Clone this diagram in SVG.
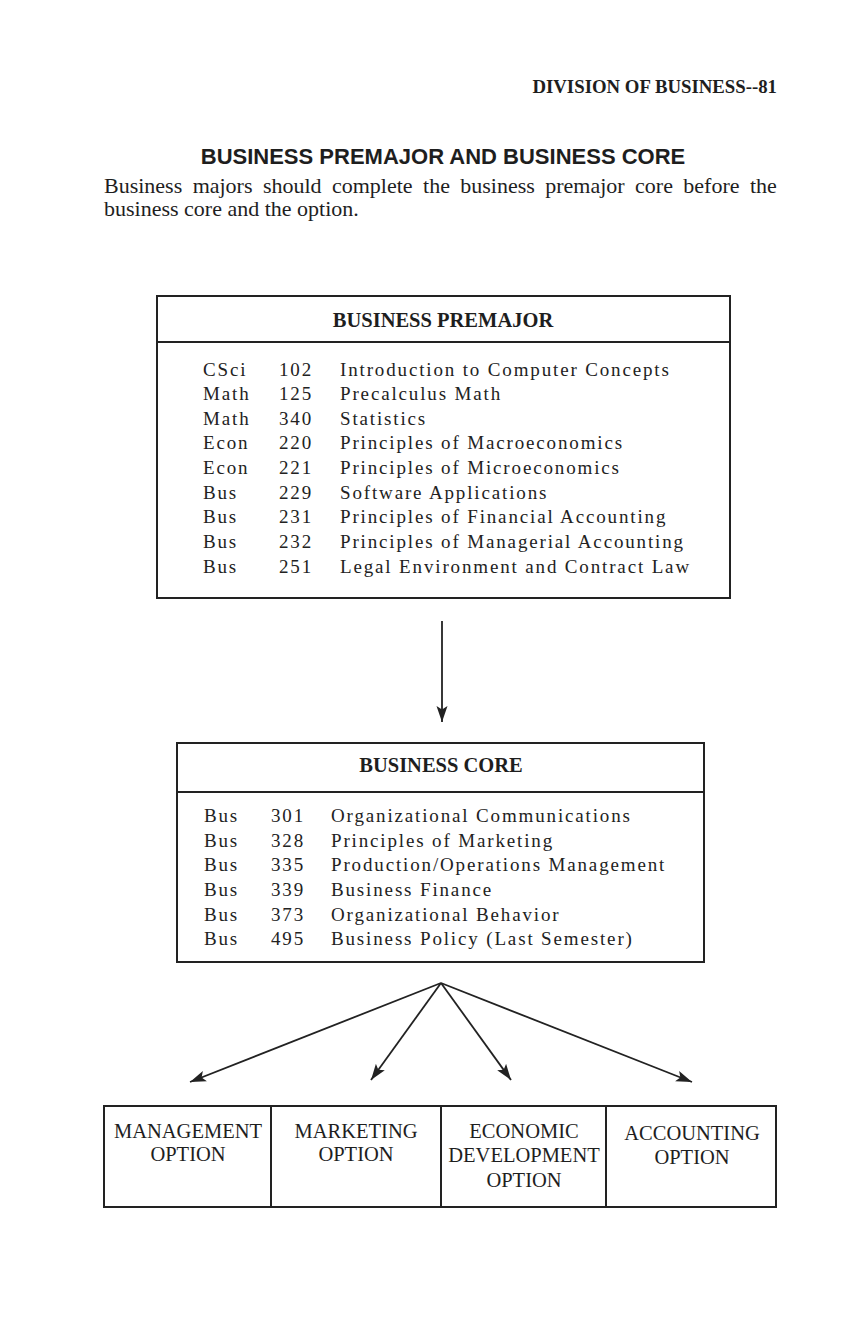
<svg xmlns="http://www.w3.org/2000/svg" width="863" height="1343" viewBox="0 0 863 1343">
<defs>
<style>
.ser{font-family:"Liberation Serif","Times New Roman",serif;fill:#1e1e1e}
.row{font-family:"Liberation Serif","Times New Roman",serif;font-size:19px;letter-spacing:1.85px;fill:#222}
.hd{font-family:"Liberation Serif","Times New Roman",serif;font-size:20.5px;font-weight:bold;fill:#1e1e1e;text-anchor:middle}
.opt{font-family:"Liberation Serif","Times New Roman",serif;font-size:20.5px;fill:#1e1e1e;text-anchor:middle}
.box{fill:none;stroke:#222;stroke-width:2}
.con{fill:none;stroke:#222;stroke-width:1.8}
</style>
<marker id="ah" markerUnits="userSpaceOnUse" markerWidth="18" markerHeight="12" refX="16" refY="6" orient="auto">
<path d="M0,0.5 L16,6 L0,11.5 L3.5,6 z" fill="#222"/>
</marker>
</defs>
<rect width="863" height="1343" fill="#ffffff"/>

<g id="header">
<text class="ser" x="777" y="93" font-size="18.8" font-weight="bold" text-anchor="end">DIVISION OF BUSINESS--81</text>
<text x="443" y="164" font-family="Liberation Sans, Arial, sans-serif" font-size="22" font-weight="bold" fill="#1e1e1e" text-anchor="middle">BUSINESS PREMAJOR AND BUSINESS CORE</text>
<text class="ser" x="104" y="193" font-size="22" word-spacing="4.9">Business majors should complete the business premajor core before the</text>
<text class="ser" x="104" y="216" font-size="22">business core and the option.</text>
</g>

<g id="premajor">
<rect class="box" x="157" y="296" width="573" height="302"/>
<line class="box" x1="157" y1="342" x2="730" y2="342"/>
<text class="hd" x="443" y="327">BUSINESS PREMAJOR</text>
<text class="row" y="375.5"><tspan x="203">CSci</tspan><tspan x="279">102</tspan><tspan x="340">Introduction to Computer Concepts</tspan></text>
<text class="row" y="400"><tspan x="203">Math</tspan><tspan x="279">125</tspan><tspan x="340">Precalculus Math</tspan></text>
<text class="row" y="424.5"><tspan x="203">Math</tspan><tspan x="279">340</tspan><tspan x="340">Statistics</tspan></text>
<text class="row" y="449"><tspan x="203">Econ</tspan><tspan x="279">220</tspan><tspan x="340">Principles of Macroeconomics</tspan></text>
<text class="row" y="474"><tspan x="203">Econ</tspan><tspan x="279">221</tspan><tspan x="340">Principles of Microeconomics</tspan></text>
<text class="row" y="498.5"><tspan x="203">Bus</tspan><tspan x="279">229</tspan><tspan x="340">Software Applications</tspan></text>
<text class="row" y="523"><tspan x="203">Bus</tspan><tspan x="279">231</tspan><tspan x="340">Principles of Financial Accounting</tspan></text>
<text class="row" y="548"><tspan x="203">Bus</tspan><tspan x="279">232</tspan><tspan x="340">Principles of Managerial Accounting</tspan></text>
<text class="row" y="572.5"><tspan x="203">Bus</tspan><tspan x="279">251</tspan><tspan x="340">Legal Environment and Contract Law</tspan></text>
</g>

<g id="core">
<rect class="box" x="177" y="743" width="527" height="219"/>
<line class="box" x1="177" y1="792" x2="704" y2="792"/>
<text class="hd" x="441" y="772">BUSINESS CORE</text>
<text class="row" y="822"><tspan x="204">Bus</tspan><tspan x="271">301</tspan><tspan x="331">Organizational Communications</tspan></text>
<text class="row" y="846.5"><tspan x="204">Bus</tspan><tspan x="271">328</tspan><tspan x="331">Principles of Marketing</tspan></text>
<text class="row" y="871"><tspan x="204">Bus</tspan><tspan x="271">335</tspan><tspan x="331">Production/Operations Management</tspan></text>
<text class="row" y="896"><tspan x="204">Bus</tspan><tspan x="271">339</tspan><tspan x="331">Business Finance</tspan></text>
<text class="row" y="920.5"><tspan x="204">Bus</tspan><tspan x="271">373</tspan><tspan x="331">Organizational Behavior</tspan></text>
<text class="row" y="945"><tspan x="204">Bus</tspan><tspan x="271">495</tspan><tspan x="331">Business Policy (Last Semester)</tspan></text>
</g>

<g id="management">
<rect class="box" x="104" y="1106" width="167" height="101"/>
<text class="opt" x="188" y="1138">MANAGEMENT</text>
<text class="opt" x="188" y="1161">OPTION</text>
</g>
<g id="marketing">
<rect class="box" x="271" y="1106" width="170" height="101"/>
<text class="opt" x="356" y="1138">MARKETING</text>
<text class="opt" x="356" y="1161">OPTION</text>
</g>
<g id="economic">
<rect class="box" x="441" y="1106" width="165" height="101"/>
<text class="opt" x="524" y="1138">ECONOMIC</text>
<text class="opt" x="524" y="1162">DEVELOPMENT</text>
<text class="opt" x="524" y="1187">OPTION</text>
</g>
<g id="accounting">
<rect class="box" x="606" y="1106" width="170" height="101"/>
<text class="opt" x="692" y="1140">ACCOUNTING</text>
<text class="opt" x="692" y="1164">OPTION</text>
</g>

<g id="connectors">
<line class="con" x1="442" y1="621" x2="442" y2="722" marker-end="url(#ah)"/>
<line class="con" x1="441" y1="983" x2="190" y2="1082" marker-end="url(#ah)"/>
<line class="con" x1="441" y1="983" x2="371" y2="1080" marker-end="url(#ah)"/>
<line class="con" x1="441" y1="983" x2="511" y2="1080" marker-end="url(#ah)"/>
<line class="con" x1="441" y1="983" x2="692" y2="1082" marker-end="url(#ah)"/>
</g>
</svg>
